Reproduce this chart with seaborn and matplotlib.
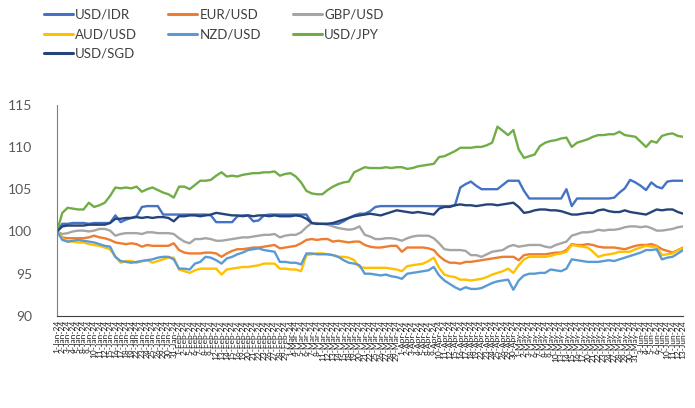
import pandas as pd
import matplotlib
matplotlib.use("Agg")
import matplotlib.pyplot as plt
import seaborn as sns

# trading days, 1 Jan 2024 .. 13 Jun 2024
dates = pd.bdate_range("2024-01-01", "2024-06-13")
date_labels = [f"{d.day}-{d:%b}-{d:%y}" for d in dates]

pairs = ["USD/IDR", "EUR/USD", "GBP/USD", "AUD/USD", "NZD/USD", "USD/JPY", "USD/SGD"]
colors = ["#4472C4", "#ED7D31", "#A5A5A5", "#FFC000", "#5B9BD5", "#70AD47", "#264478"]

usd_idr = [100.0, 100.9, 100.9, 101.0, 101.0, 101.0, 100.9, 101.0, 101.0, 101.0,
           101.0, 101.9, 101.1, 101.4, 101.6, 101.8, 102.9, 103.0, 103.0, 103.0,
           102.0, 102.0, 102.0, 102.0, 102.0, 102.0, 102.0, 102.0, 102.0, 101.9,
           101.1, 101.1, 101.1, 101.1, 101.8, 101.9, 101.9, 101.2, 101.3, 101.9,
           102.0, 102.0, 102.0, 102.0, 102.0, 102.0, 102.0, 102.0, 101.0, 100.9,
           100.9, 100.9, 100.9, 100.9, 101.2, 101.6, 101.9, 102.1, 102.1, 102.4,
           102.9, 103.0, 103.0, 103.0, 103.0, 103.0, 103.0, 103.0, 103.0, 103.0,
           103.0, 103.0, 103.0, 103.0, 103.0, 103.1, 105.2, 105.6, 105.9, 105.4,
           105.0, 105.0, 105.0, 105.0, 105.5, 106.0, 106.0, 106.0, 104.8, 103.9,
           103.9, 103.9, 103.9, 103.9, 103.9, 103.9, 105.0, 103.0, 103.9, 103.9,
           103.9, 103.9, 103.9, 103.9, 103.9, 104.0, 104.6, 105.1, 106.1, 105.8,
           105.4, 104.9, 105.8, 105.3, 105.1, 105.9, 106.0, 106.0, 106.0]

eur_usd = [100.0, 99.3, 99.2, 99.2, 99.2, 99.2, 99.3, 99.5, 99.3, 99.2,
           99.0, 98.7, 98.6, 98.5, 98.6, 98.5, 98.2, 98.4, 98.3, 98.3,
           98.3, 98.3, 98.6, 97.8, 97.5, 97.4, 97.4, 97.4, 97.5, 97.5,
           97.4, 97.0, 97.4, 97.7, 97.9, 97.9, 98.0, 98.1, 98.1, 98.2,
           98.3, 98.4, 98.0, 98.1, 98.2, 98.3, 98.6, 99.0, 99.1, 99.0,
           99.1, 99.1, 98.8, 98.9, 98.8, 98.7, 98.8, 98.8, 98.4, 98.2,
           98.1, 98.1, 98.2, 98.3, 98.3, 97.6, 98.1, 98.1, 98.1, 98.1,
           98.0, 97.8, 97.1, 96.6, 96.3, 96.3, 96.2, 96.4, 96.4, 96.5,
           96.6, 96.7, 96.8, 96.9, 97.0, 97.0, 97.0, 96.6, 97.2, 97.3,
           97.3, 97.3, 97.3, 97.4, 97.5, 97.5, 97.8, 98.5, 98.4, 98.4,
           98.5, 98.4, 98.2, 98.1, 98.1, 98.1, 98.0, 97.9, 98.1, 98.3,
           98.4, 98.4, 98.5, 98.3, 97.9, 97.7, 97.5, 97.8, 98.1]

gbp_usd = [100.0, 99.7, 99.8, 100.0, 100.1, 100.1, 100.0, 100.1, 100.3, 100.3,
           100.1, 99.5, 99.7, 99.8, 99.8, 99.8, 99.7, 99.9, 99.9, 99.8,
           99.8, 99.8, 99.7, 99.2, 98.8, 98.6, 99.1, 99.1, 99.2, 99.1,
           98.9, 98.9, 99.0, 99.1, 99.2, 99.3, 99.3, 99.4, 99.5, 99.6,
           99.6, 99.7, 99.3, 99.5, 99.6, 99.6, 99.9, 100.5, 101.0, 101.0,
           100.9, 100.8, 100.6, 100.4, 100.3, 100.2, 100.3, 100.6, 99.6, 99.4,
           99.1, 99.1, 99.2, 99.2, 99.1, 98.9, 99.2, 99.4, 99.5, 99.5,
           99.5, 99.2, 98.6, 97.9, 97.8, 97.8, 97.8, 97.7, 97.2, 97.2,
           97.0, 97.3, 97.6, 97.7, 97.8, 98.2, 98.4, 98.2, 98.3, 98.4,
           98.4, 98.4, 98.2, 98.1, 98.4, 98.6, 98.8, 99.5, 99.7, 99.9,
           99.9, 100.0, 100.2, 100.1, 100.2, 100.2, 100.3, 100.5, 100.6, 100.6,
           100.5, 100.6, 100.4, 100.1, 100.1, 100.2, 100.3, 100.5, 100.6]

aud_usd = [100.0, 99.2, 98.8, 98.8, 98.7, 98.7, 98.5, 98.4, 98.3, 98.1,
           97.9, 97.0, 96.3, 96.5, 96.5, 96.3, 96.5, 96.6, 96.3, 96.5,
           96.7, 96.9, 96.9, 95.5, 95.3, 95.1, 95.4, 95.6, 95.6, 95.6,
           95.6, 94.9, 95.5, 95.6, 95.7, 95.8, 95.8, 95.9, 96.0, 96.2,
           96.2, 96.2, 95.6, 95.6, 95.5, 95.5, 95.3, 97.2, 97.3, 97.4,
           97.4, 97.3, 97.2, 97.0, 97.0, 96.9, 96.6, 95.8, 95.7, 95.7,
           95.7, 95.7, 95.7, 95.6, 95.5, 95.3, 95.9, 96.0, 96.1, 96.2,
           96.5, 96.9, 95.7, 94.9, 94.7, 94.6, 94.3, 94.3, 94.2, 94.3,
           94.4, 94.6, 94.9, 95.1, 95.3, 95.6, 95.1, 96.0, 96.7, 97.0,
           97.0, 97.0, 97.0, 97.1, 97.3, 97.4, 97.6, 98.4, 98.3, 98.2,
           98.1, 97.6, 97.0, 97.2, 97.3, 97.4, 97.6, 97.6, 97.6, 97.9,
           98.1, 98.3, 98.2, 98.2, 97.2, 97.3, 97.4, 97.8, 98.0]

nzd_usd = [100.0, 99.0, 98.8, 98.9, 99.0, 98.9, 98.8, 98.7, 98.5, 98.3,
           98.2, 97.0, 96.5, 96.4, 96.3, 96.4, 96.5, 96.6, 96.7, 96.9,
           97.0, 97.0, 96.7, 95.6, 95.6, 95.5, 96.2, 96.4, 97.0, 96.9,
           96.6, 96.2, 96.8, 97.0, 97.3, 97.5, 97.8, 97.9, 98.0, 97.8,
           97.7, 97.6, 96.4, 96.4, 96.3, 96.3, 96.1, 97.4, 97.4, 97.3,
           97.3, 97.3, 97.2, 97.0, 96.6, 96.3, 96.2, 96.0, 95.0, 95.0,
           94.9, 94.8, 94.9, 94.7, 94.6, 94.4, 95.0, 95.1, 95.2, 95.3,
           95.4, 95.8, 94.8, 94.2, 93.8, 93.4, 93.1, 93.4, 93.2, 93.2,
           93.3, 93.6, 93.9, 94.1, 94.2, 94.3, 93.1, 94.2, 94.8, 95.0,
           95.0, 95.1, 95.1, 95.5, 95.4, 95.3, 95.6, 96.7, 96.6, 96.5,
           96.4, 96.4, 96.4, 96.5, 96.6, 96.5, 96.7, 96.9, 97.1, 97.3,
           97.5, 97.8, 97.8, 97.9, 96.7, 96.9, 97.0, 97.4, 97.8]

usd_jpy = [100.0, 102.2, 102.8, 102.7, 102.6, 102.6, 103.4, 102.9, 103.1, 103.4,
           104.2, 105.2, 105.1, 105.2, 105.1, 105.3, 104.7, 105.0, 105.2, 104.9,
           104.6, 104.4, 104.0, 105.3, 105.3, 105.0, 105.5, 106.0, 106.0, 106.1,
           106.6, 107.0, 106.5, 106.6, 106.5, 106.7, 106.8, 106.9, 106.9, 107.0,
           107.0, 107.1, 106.6, 106.8, 106.9, 106.5, 105.8, 104.8, 104.5, 104.4,
           104.4, 104.9, 105.3, 105.6, 105.8, 105.9, 107.0, 107.3, 107.6, 107.5,
           107.5, 107.5, 107.6, 107.5, 107.6, 107.6, 107.4, 107.5, 107.7, 107.8,
           107.9, 108.0, 108.8, 108.9, 109.2, 109.5, 109.9, 109.9, 109.9, 110.0,
           110.0, 110.2, 110.5, 112.4, 111.9, 111.4, 112.0, 109.7, 108.7, 108.9,
           109.1, 110.1, 110.5, 110.7, 110.8, 111.0, 111.1, 110.0, 110.5, 110.7,
           110.9, 111.2, 111.4, 111.4, 111.5, 111.5, 111.8, 111.4, 111.3, 111.2,
           110.6, 110.0, 110.7, 110.5, 111.3, 111.5, 111.6, 111.3, 111.2]

usd_sgd = [100.0, 100.6, 100.7, 100.7, 100.7, 100.7, 100.8, 100.8, 100.8, 100.8,
           101.0, 101.5, 101.5, 101.6, 101.6, 101.7, 101.6, 101.7, 101.6, 101.7,
           101.7, 101.6, 101.2, 101.8, 101.8, 101.9, 101.9, 101.8, 101.9, 102.0,
           102.2, 102.1, 102.0, 101.9, 101.9, 101.8, 101.9, 101.8, 101.9, 101.9,
           101.8, 101.9, 101.8, 101.8, 101.8, 101.9, 101.8, 101.5, 101.0, 100.9,
           100.9, 100.9, 101.0, 101.2, 101.4, 101.6, 101.8, 101.9, 102.0, 102.1,
           102.0, 101.9, 102.1, 102.3, 102.5, 102.4, 102.3, 102.2, 102.3, 102.2,
           102.1, 102.0, 102.7, 102.9, 102.9, 103.1, 103.2, 103.1, 103.1, 103.0,
           103.1, 103.2, 103.2, 103.1, 103.2, 103.3, 103.4, 102.9, 102.2, 102.3,
           102.5, 102.6, 102.6, 102.5, 102.5, 102.4, 102.2, 102.0, 102.0, 102.1,
           102.2, 102.2, 102.5, 102.6, 102.4, 102.3, 102.3, 102.5, 102.3, 102.2,
           102.1, 102.0, 102.3, 102.6, 102.5, 102.6, 102.6, 102.3, 102.1]

series = [usd_idr, eur_usd, gbp_usd, aud_usd, nzd_usd, usd_jpy, usd_sgd]
frames = []
for name, vals in zip(pairs, series):
    frames.append(pd.DataFrame({"idx": range(len(vals)), "value": vals, "pair": name}))
df = pd.concat(frames, ignore_index=True)

sns.set_style("white")
plt.rcParams["font.family"] = ["Lato", "DejaVu Sans"]

fig = plt.figure(figsize=(6.95, 4.08), dpi=100)
ax = fig.add_axes([0.082, 0.2255, 0.901, 0.518])

sns.lineplot(data=df, x="idx", y="value", hue="pair", hue_order=pairs,
             palette=colors, linewidth=1.7, ax=ax, legend=False)

ax.set_xlim(0, len(date_labels) - 1)
ax.set_ylim(90, 115)
ax.set_yticks([90, 95, 100, 105, 110, 115])
ax.tick_params(axis="y", labelsize=10, labelcolor="#595959", length=0, pad=18)
ax.set_xticks(range(len(date_labels)))
ax.set_xticklabels(date_labels, rotation=90, fontsize=6, color="#222222")
ax.tick_params(axis="x", length=0, pad=3)
ax.set_xlabel("")
ax.set_ylabel("")

for s in ["top", "right"]:
    ax.spines[s].set_visible(False)
ax.spines["left"].set_color("#7f7f7f")
ax.spines["bottom"].set_color("#404040")

# legend: three fixed-width columns, like the Excel original
columns = [[0, 3, 6], [1, 4], [2, 5]]
col_x = [0.055, 0.2345, 0.414]
for ks, x0 in zip(columns, col_x):
    handles = [plt.Line2D([], [], color=colors[k], linewidth=2.2) for k in ks]
    fig.legend(handles, [pairs[k] for k in ks], loc="upper left",
               bbox_to_anchor=(x0, 0.992), frameon=False, fontsize=9.5,
               handlelength=2.2, handletextpad=0.15, labelspacing=0.58,
               borderaxespad=0, labelcolor="#404040")

fig.savefig("out.png", dpi=100)
